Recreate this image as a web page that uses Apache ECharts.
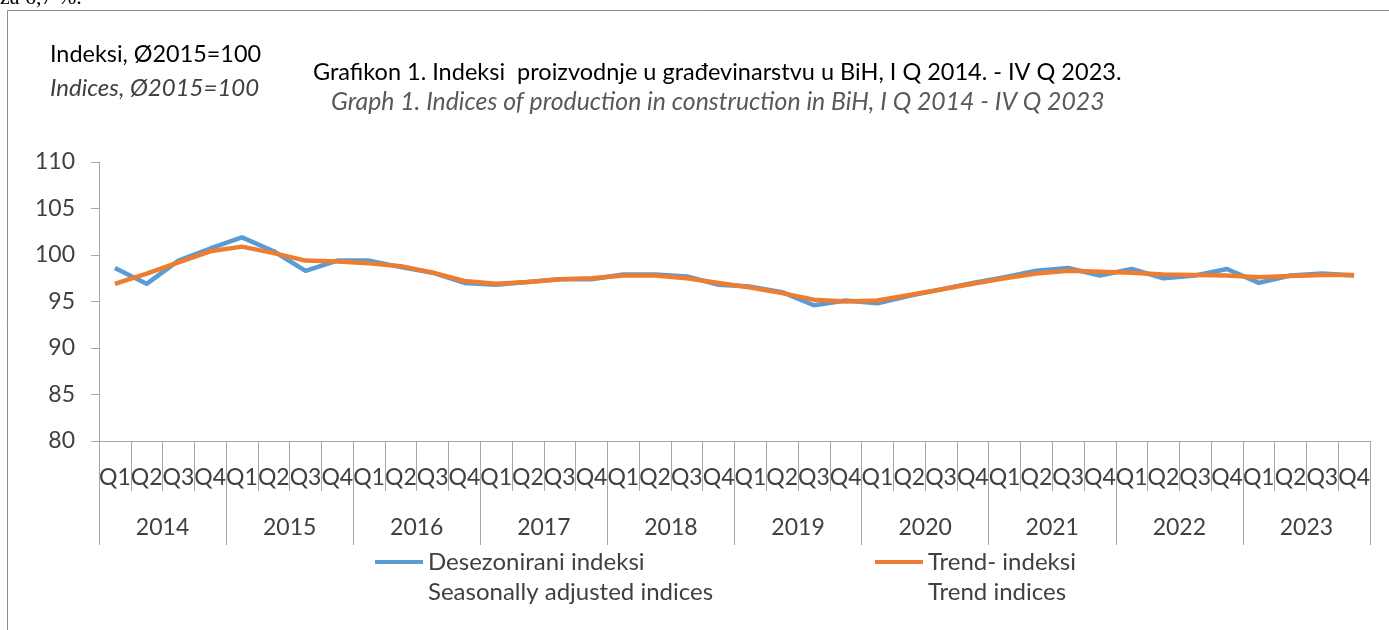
<!DOCTYPE html>
<html>
<head>
<meta charset="utf-8">
<script src="https://cdn.jsdelivr.net/npm/echarts@6/dist/echarts.min.js"></script>
<style>
  html, body { margin: 0; padding: 0; background: #fff; }
  #chart { width: 1389px; height: 630px; }
</style>
</head>
<body>
<div id="chart"></div>
<script>
// Quarterly construction production indices, BiH, Q1 2014 - Q4 2023 (2015 avg = 100)
const years = ['2014', '2015', '2016', '2017', '2018', '2019', '2020', '2021', '2022', '2023'];
const quarters = years.flatMap(() => ['Q1', 'Q2', 'Q3', 'Q4']);

const seasonallyAdjusted = [
  98.6, 96.9, 99.4, 100.7, 101.9, 100.4, 98.3, 99.4,
  99.4, 98.7, 98.1, 97.0, 96.8, 97.1, 97.4, 97.4,
  97.9, 97.9, 97.7, 96.8, 96.6, 96.0, 94.6, 95.1,
  94.8, 95.6, 96.3, 97.0, 97.6, 98.3, 98.6, 97.8,
  98.5, 97.5, 97.8, 98.5, 97.0, 97.8, 98.0, 97.8,
];
const trend = [
  96.9, 98.0, 99.2, 100.4, 100.9, 100.2, 99.4, 99.3,
  99.1, 98.8, 98.1, 97.2, 96.9, 97.1, 97.4, 97.5,
  97.8, 97.8, 97.5, 97.0, 96.5, 95.9, 95.2, 95.0,
  95.1, 95.7, 96.3, 96.9, 97.5, 98.0, 98.3, 98.2,
  98.1, 97.9, 97.85, 97.8, 97.6, 97.75, 97.85, 97.85,
];

const FONT = 'Lato, "Open Sans", sans-serif';
const AXIS_GRAY = '#a6a6a6';
const TEXT = '#404040';

const chart = echarts.init(document.getElementById('chart'), null, { renderer: 'canvas' });

const legendBase = {
  orient: 'horizontal', top: 545, itemWidth: 48, itemHeight: 4, itemGap: 8,
  icon: 'rect', selectedMode: false,
  textStyle: { color: TEXT, fontSize: 24, fontFamily: FONT },
};

chart.setOption({
  animation: false,
  textStyle: { fontFamily: FONT },
  grid: { left: 99, right: 19, top: 162, bottom: 189 },
  graphic: [
    { type: 'rect', silent: true, shape: { x: 7.5, y: 10.5, width: 1400, height: 700 },
      style: { fill: 'none', stroke: '#8c8c8c', lineWidth: 1 } },
    { type: 'text', left: 0, top: -13, silent: true,
      style: { text: 'za 6,7 %.', font: '22px "Liberation Serif", serif', fill: '#000' } },
    { type: 'text', left: 50, top: 43, silent: true,
      style: { text: 'Indeksi, Ø2015=100', font: '23.4px ' + FONT, fill: '#000' } },
    { type: 'text', left: 50, top: 76, silent: true,
      style: { text: 'Indices, Ø2015=100', font: 'italic 24px ' + FONT, fill: TEXT } },
    { type: 'text', left: 313, top: 60, silent: true,
      style: { text: 'Grafikon 1. Indeksi  proizvodnje u građevinarstvu u BiH, I Q 2014. - IV Q 2023.',
        font: '23.5px ' + FONT, fill: '#000' } },
    { type: 'text', left: 331, top: 90, silent: true,
      style: { text: 'Graph 1. Indices of production in construction in BiH, I Q 2014 - IV Q 2023',
        font: 'italic 24.8px ' + FONT, fill: '#595959' } },
    { type: 'text', left: 428, top: 580, silent: true,
      style: { text: 'Seasonally adjusted indices', font: '24px ' + FONT, fill: TEXT } },
    { type: 'text', left: 928, top: 580, silent: true,
      style: { text: 'Trend indices', font: '24px ' + FONT, fill: TEXT } },
  ],
  legend: [
    { ...legendBase, left: 370, data: [{ name: 'Desezonirani indeksi' }] },
    { ...legendBase, left: 870, data: [{ name: 'Trend- indeksi' }] },
  ],
  xAxis: [
    {
      type: 'category', data: quarters, boundaryGap: true, position: 'bottom',
      axisLine: { lineStyle: { color: AXIS_GRAY, width: 1 } },
      axisTick: { show: true, interval: 0, length: 50, lineStyle: { color: AXIS_GRAY } },
      axisLabel: { interval: 0, margin: 25, fontSize: 23, color: TEXT },
      splitLine: { show: false },
    },
    {
      type: 'category', data: years, boundaryGap: true, position: 'bottom',
      axisLine: { show: false },
      axisTick: { show: true, interval: 0, length: 104, lineStyle: { color: AXIS_GRAY } },
      axisLabel: { interval: 0, margin: 75, fontSize: 23, color: TEXT },
      splitLine: { show: false },
    },
  ],
  yAxis: {
    type: 'value', min: 80, max: 110, interval: 5,
    axisLine: { show: true, lineStyle: { color: AXIS_GRAY, width: 1 } },
    axisTick: { show: true, length: 8, lineStyle: { color: AXIS_GRAY } },
    axisLabel: { margin: 24, fontSize: 23, color: TEXT },
    splitLine: { show: false },
  },
  series: [
    {
      name: 'Desezonirani indeksi', type: 'line', xAxisIndex: 0, data: seasonallyAdjusted,
      showSymbol: false, symbol: 'none', color: '#5b9bd5',
      lineStyle: { width: 4.5, color: '#5b9bd5', join: 'round' },
    },
    {
      name: 'Trend- indeksi', type: 'line', xAxisIndex: 0, data: trend,
      showSymbol: false, symbol: 'none', color: '#ed7d31',
      lineStyle: { width: 4.5, color: '#ed7d31', join: 'round' },
    },
  ],
});
</script>
</body>
</html>
